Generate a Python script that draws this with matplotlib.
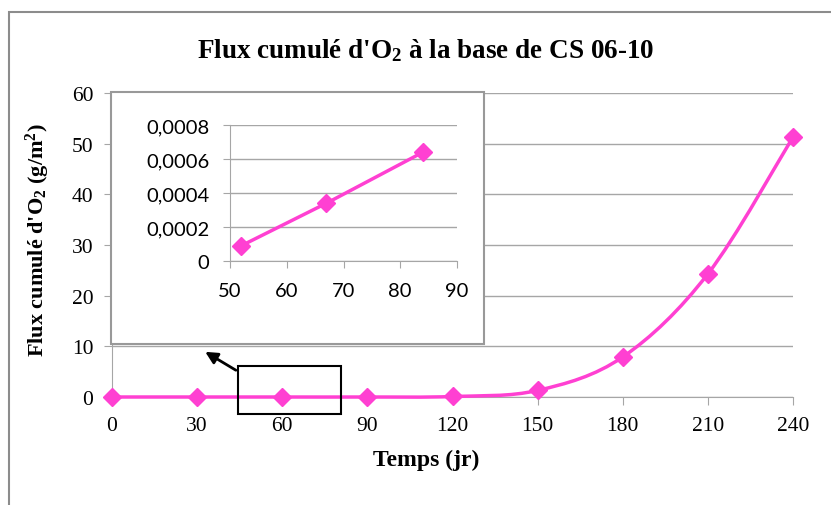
import numpy as np
import matplotlib
matplotlib.use('Agg')
import matplotlib.pyplot as plt
from matplotlib.patches import Rectangle, PathPatch
from matplotlib.path import Path

# ========== données ==========
jours = [0, 30, 60, 90, 120, 150, 180, 210, 240]
flux = [0, 0, 0, 0, 0.1, 1.3, 7.9, 24.3, 51.3]

jours_zoom = [52, 67, 84]
flux_zoom = [0.00009, 0.00034, 0.00064]

rose = '#FF40D2'
gris = '#A6A6A6'


def courbe_lisse(x, y):
    # courbe de Catmull-Rom (comme la "ligne lissée" d'Excel)
    pts = np.column_stack([x, y]).astype(float)
    verts = [pts[0]]
    codes = [Path.MOVETO]
    for i in range(len(pts) - 1):
        p0 = pts[i - 1] if i > 0 else pts[i]
        p1, p2 = pts[i], pts[i + 1]
        p3 = pts[i + 2] if i + 2 < len(pts) else pts[i + 1]
        c1 = p1 + (p2 - p0) / 6
        c2 = p2 - (p3 - p1) / 6
        verts += [c1, c2, p2]
        codes += [Path.CURVE4] * 3
    return Path(verts, codes)


plt.rcParams['font.family'] = 'Liberation Serif'
plt.rcParams['mathtext.fontset'] = 'custom'
plt.rcParams['mathtext.rm'] = 'Liberation Serif:bold'
plt.rcParams['mathtext.bf'] = 'Liberation Serif:bold'
plt.rcParams['mathtext.it'] = 'Liberation Serif:bold'
plt.rcParams['mathtext.default'] = 'rm'

fig = plt.figure(figsize=(8.31, 5.06), dpi=100)

# cadre extérieur
fig.patches.append(Rectangle((9 / 831, -0.1), 1.0, (506 - 13) / 506 + 0.1,
                             transform=fig.transFigure, fill=False,
                             edgecolor='#8C8C8C', linewidth=1.5))

ax = fig.add_axes([112 / 831, 108 / 506, 681 / 831, 304 / 506])
ax.set_xlim(0, 240)
ax.set_ylim(0, 60)
ax.set_xticks(range(0, 241, 30))
ax.set_yticks(range(0, 61, 10))
ax.yaxis.grid(True, color=gris, linewidth=1)
ax.set_axisbelow(True)
for s in ['top', 'right']:
    ax.spines[s].set_visible(False)
for s in ['left', 'bottom']:
    ax.spines[s].set_color(gris)
ax.tick_params(axis='both', colors=gris, labelcolor='black', labelsize=15.5,
               length=5.5, direction='out', pad=8)

ax.add_patch(PathPatch(courbe_lisse(jours, flux), fill=False, edgecolor=rose,
                       linewidth=2.5, clip_on=False, zorder=3))
ax.plot(jours, flux, linestyle='none', marker='D', markersize=9.5, color=rose,
        clip_on=False, zorder=4)

ax.set_title("Flux cumulé d'O$_2$ à la base de CS 06-10", fontsize=19.5,
             fontweight='bold', pad=26, x=0.461)
ax.set_xlabel('Temps (jr)', fontsize=17, fontweight='bold')
ax.xaxis.set_label_coords(0.461, -0.172)
ax.set_ylabel("Flux cumulé d'O$_2$ (g/m$^2$)", fontsize=16, fontweight='bold')
ax.yaxis.set_label_coords(-0.088, 0.52)

# rectangle de zoom et flèche
ax.add_patch(Rectangle((44.5, -3.4), 36.1, 9.5, fill=False, edgecolor='black',
                       linewidth=1.5, clip_on=False, zorder=5))
ax.annotate('', xy=(32.0, 9.2), xytext=(44.5, 5.0),
            arrowprops=dict(arrowstyle='-|>', color='black', lw=2,
                            mutation_scale=18), annotation_clip=False)

# encart
fig.patches.append(Rectangle((111 / 831, (506 - 345) / 506), 373 / 831, 252 / 506,
                             transform=fig.transFigure, facecolor='white',
                             edgecolor='#999999', linewidth=1.5, zorder=2))

axi = fig.add_axes([230 / 831, 244 / 506, 227 / 831, 136 / 506], zorder=3)
axi.set_xlim(50, 90)
axi.set_ylim(0, 0.0008)
axi.set_xticks(range(50, 91, 10))
axi.set_yticks([0, 0.0002, 0.0004, 0.0006, 0.0008])
axi.set_yticklabels(['0', '0,0002', '0,0004', '0,0006', '0,0008'])
axi.yaxis.grid(True, color=gris, linewidth=1)
axi.set_axisbelow(True)
for s in ['top', 'right']:
    axi.spines[s].set_visible(False)
for s in ['left', 'bottom']:
    axi.spines[s].set_color(gris)
axi.tick_params(axis='both', colors=gris, labelcolor='black', labelsize=14.5,
                length=5, direction='out', pad=10)
for lab in axi.get_xticklabels() + axi.get_yticklabels():
    lab.set_family('Lato')
axi.plot(jours_zoom, flux_zoom, color=rose, linewidth=2.5, marker='D',
         markersize=9.5, clip_on=False)

fig.savefig('out.png', dpi=100)
